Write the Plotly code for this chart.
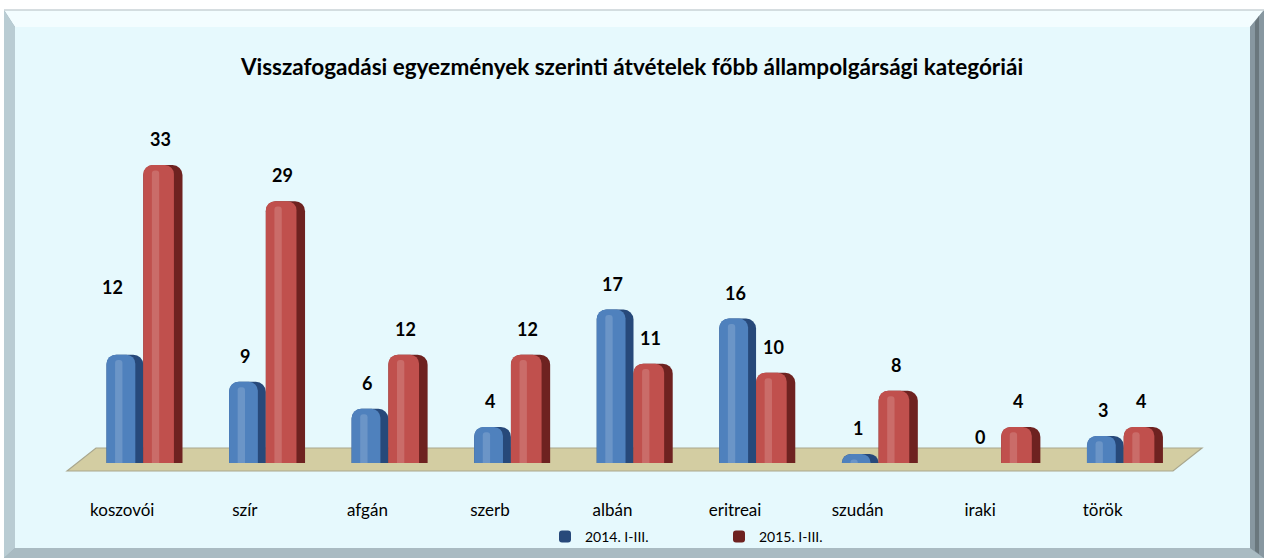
import plotly.graph_objects as go

# Categories and values
categories = ["koszovói", "szír", "afgán", "szerb", "albán", "eritreai", "szudán", "iraki", "török"]
values_2014 = [12, 9, 6, 4, 17, 16, 1, 0, 3]
values_2015 = [33, 29, 12, 12, 11, 10, 8, 4, 4]
series_names = ["2014. I-III.", "2015. I-III."]
title_text = "Visszafogadási egyezmények szerinti átvételek főbb állampolgársági kategóriái"

W, H = 1264, 558
# plot area in pixels
L, R, T, B = 82, 1185, 138, 463
Y_MAX = 36
FONT = "Lato"


def px(x):
    return (x - L) / (R - L)


def py(y):
    return (B - y) / (B - T)


def poly(points):
    return "M " + " L ".join(f"{px(x):.5f},{py(y):.5f}" for x, y in points) + " Z"


fig = go.Figure()

bar_styles = [
    # (values, name, side colour, face colour, offset, side width, face width)
    (values_2014, series_names[0], "#27497A", "#4F81BD", -0.30, 0.30, 0.235),
    (values_2015, series_names[1], "#6E2220", "#C0504D", 0.0, 0.32, 0.25),
]
for vals, name, side, face, off, w_side, w_face in bar_styles:
    fig.add_trace(go.Bar(
        x=categories, y=vals, name=name, offset=off, width=w_side,
        marker=dict(color=side, cornerradius=10, line=dict(width=0)),
        showlegend=True, hoverinfo="skip",
    ))
    fig.add_trace(go.Bar(
        x=categories, y=vals, name=name, offset=off, width=w_face,
        marker=dict(color=face, cornerradius=9, line=dict(width=0)),
        showlegend=False, hoverinfo="skip",
    ))
    # soft highlight running down the face
    fig.add_trace(go.Bar(
        x=categories, y=[max(v - 0.6, 0) for v in vals], name=name,
        offset=off + 0.07, width=0.06,
        marker=dict(color="rgba(255,255,255,0.16)", cornerradius=3, line=dict(width=0)),
        showlegend=False, hoverinfo="skip",
    ))

# value labels; one label is nudged clear of its neighbour
label_nudge = {"koszovói": (-10, 42)}
annotations = []
for cat, v in zip(categories, values_2014):
    dx, dy = label_nudge.get(cat, (0, 0))
    annotations.append(dict(
        x=cat, y=v, xref="x", yref="y", text=f"<b>{v}</b>", showarrow=False,
        xshift=-21 + dx, yshift=26 + dy, yanchor="middle",
        font=dict(family=FONT, size=18, color="#000000"),
    ))
for cat, v in zip(categories, values_2015):
    annotations.append(dict(
        x=cat, y=v, xref="x", yref="y", text=f"<b>{v}</b>", showarrow=False,
        xshift=17, yshift=26, yanchor="middle",
        font=dict(family=FONT, size=18, color="#000000"),
    ))

# frame, panel and floor
shapes = [
    dict(type="path", path=poly([(4, 10), (1264, 10), (1264, 558), (4, 558)]),
         fillcolor="#9FB0B8", line=dict(width=0), layer="below", xref="paper", yref="paper"),
    dict(type="path", path=poly([(4, 10), (1264, 10), (1250, 27), (15, 27)]),
         fillcolor="#F3FDFF", line=dict(width=0), layer="below", xref="paper", yref="paper"),
    dict(type="path", path=poly([(4, 10), (15, 27), (15, 548), (4, 558)]),
         fillcolor="#B9CCD3", line=dict(width=0), layer="below", xref="paper", yref="paper"),
    dict(type="path", path=poly([(4, 558), (15, 548), (1250, 548), (1264, 558)]),
         fillcolor="#A9BBC2", line=dict(width=0), layer="below", xref="paper", yref="paper"),
    dict(type="path", path=poly([(1264, 10), (1250, 27), (1250, 548), (1264, 558)]),
         fillcolor="#8797A0", line=dict(width=0), layer="below", xref="paper", yref="paper"),
    dict(type="path", path=poly([(1259, 16), (1255, 22), (1255, 551), (1259, 554)]),
         fillcolor="#6A777D", line=dict(width=0), layer="below", xref="paper", yref="paper"),
    dict(type="line", x0=px(4), x1=px(1264), y0=py(10), y1=py(10),
         line=dict(color="#C9D2D6", width=1.5), layer="below", xref="paper", yref="paper"),
    dict(type="path", path=poly([(15, 27), (1250, 27), (1250, 548), (15, 548)]),
         fillcolor="#E6F9FD", line=dict(width=0), layer="below", xref="paper", yref="paper"),
    dict(type="path", path=poly([(67, 471), (96, 448), (1202, 448), (1173, 471)]),
         fillcolor="#D3CDA2", line=dict(color="#A9A78E", width=1.2), layer="below",
         xref="paper", yref="paper"),
]

fig.update_layout(
    width=W, height=H,
    margin=dict(l=L, r=W - R, t=T, b=H - B, pad=0, autoexpand=False),
    paper_bgcolor="#FFFFFF",
    plot_bgcolor="rgba(0,0,0,0)",
    barmode="overlay",
    font=dict(family=FONT, color="#000000"),
    title=dict(text=f"<b>{title_text}</b>", x=0.5, xref="container", xanchor="center",
               y=1 - 67 / H, yref="container", yanchor="middle",
               font=dict(family=FONT, size=22.5, color="#000000")),
    xaxis=dict(type="category", categoryorder="array", categoryarray=categories,
               range=[-0.5, len(categories) - 0.5], showgrid=False, zeroline=False,
               showline=False, ticks="", ticklabelshift=-21, ticklabelstandoff=35,
               automargin=False,
               tickfont=dict(family=FONT, size=17, color="#000000"), fixedrange=True),
    yaxis=dict(range=[0, Y_MAX], showgrid=False, zeroline=False, showline=False,
               showticklabels=False, ticks="", fixedrange=True, automargin=False),
    legend=dict(orientation="h", xref="paper", yref="paper",
                x=px(545), xanchor="left", y=py(537), yanchor="middle",
                entrywidth=129, entrywidthmode="pixels", itemwidth=30,
                bgcolor="rgba(0,0,0,0)", font=dict(family=FONT, size=14, color="#000000"),
                tracegroupgap=0),
    shapes=shapes,
    annotations=annotations,
    showlegend=True,
)

fig.write_html("out.html")
